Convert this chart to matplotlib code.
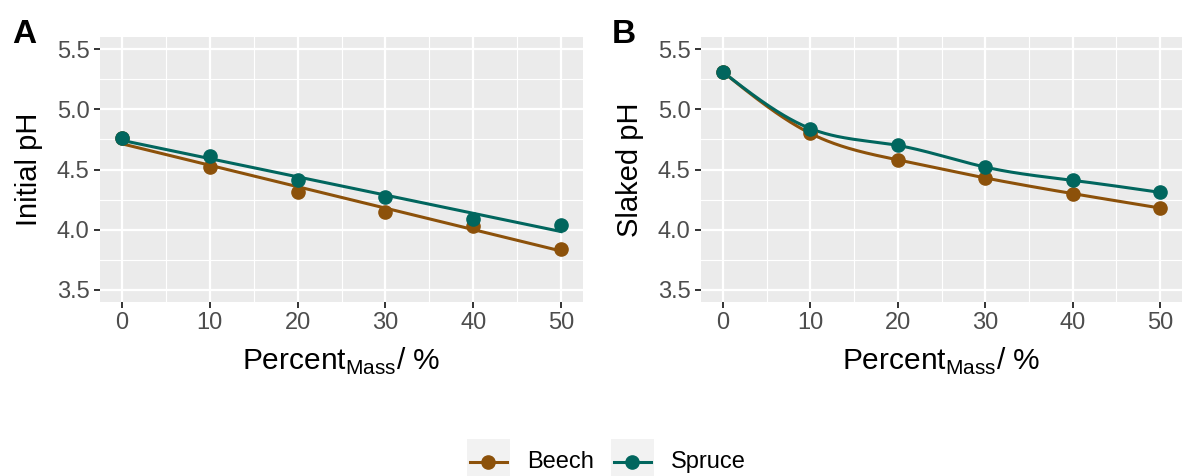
import numpy as np
import matplotlib
matplotlib.use("Agg")
import matplotlib.pyplot as plt
from matplotlib.patches import Rectangle
from matplotlib.lines import Line2D

plt.rcParams['font.family'] = ['Liberation Sans', 'DejaVu Sans']
plt.rcParams['mathtext.fontset'] = 'custom'
plt.rcParams['mathtext.rm'] = 'Liberation Sans'

# data
percent = [0, 10, 20, 30, 40, 50]
species = ['Beech', 'Spruce']
colors = {'Beech': '#8C510A', 'Spruce': '#01665E'}

initial_ph = {
    'Beech': [4.76, 4.52, 4.31, 4.15, 4.03, 3.84],
    'Spruce': [4.76, 4.61, 4.41, 4.27, 4.09, 4.04],
}
slaked_ph = {
    'Beech': [5.31, 4.80, 4.58, 4.43, 4.30, 4.18],
    'Spruce': [5.31, 4.84, 4.70, 4.52, 4.41, 4.31],
}


def natural_spline(x, y, xs):
    # natural cubic spline through (x, y), evaluated at xs
    x = np.asarray(x, float)
    y = np.asarray(y, float)
    n = len(x)
    h = np.diff(x)
    A = np.zeros((n, n))
    b = np.zeros(n)
    A[0, 0] = A[-1, -1] = 1
    for i in range(1, n - 1):
        A[i, i - 1] = h[i - 1]
        A[i, i] = 2 * (h[i - 1] + h[i])
        A[i, i + 1] = h[i]
        b[i] = 3 * ((y[i + 1] - y[i]) / h[i] - (y[i] - y[i - 1]) / h[i - 1])
    c = np.linalg.solve(A, b)
    bb = (y[1:] - y[:-1]) / h - h * (2 * c[:-1] + c[1:]) / 3
    d = (c[1:] - c[:-1]) / (3 * h)
    idx = np.clip(np.searchsorted(x, xs) - 1, 0, n - 2)
    dx = xs - x[idx]
    return y[idx] + bb[idx] * dx + c[idx] * dx ** 2 + d[idx] * dx ** 3


def style_axes(ax):
    ax.set_facecolor('#EBEBEB')
    for s in ax.spines.values():
        s.set_visible(False)
    ax.set_xlim(-2.5, 52.5)
    ax.set_ylim(3.4, 5.6)
    ax.set_xticks(percent)
    ax.set_yticks([3.5, 4.0, 4.5, 5.0, 5.5])
    ax.set_yticklabels(['3.5', '4.0', '4.5', '5.0', '5.5'])
    ax.set_xticks([5, 15, 25, 35, 45], minor=True)
    ax.set_yticks([3.75, 4.25, 4.75, 5.25], minor=True)
    ax.grid(which='major', color='white', lw=1.6)
    ax.grid(which='minor', color='white', lw=0.8)
    ax.set_axisbelow(True)
    ax.tick_params(which='major', length=4.5, width=1.4, color='#333333',
                   labelsize=17, labelcolor='#4D4D4D', pad=3)
    ax.tick_params(which='minor', length=0)
    ax.set_xlabel(r'Percent$_{\mathregular{Mass}}$/ %', fontsize=21.5, labelpad=8)


fig = plt.figure(figsize=(11.83, 4.76), dpi=100)
axA = fig.add_axes([100 / 1183, 174 / 476, 483 / 1183, 265 / 476])
axB = fig.add_axes([701 / 1183, 174 / 476, 481 / 1183, 265 / 476])

xs = np.linspace(0, 50, 300)

# A: linear fits
for sp in species:
    k, m = np.polyfit(percent, initial_ph[sp], 1)
    axA.plot(xs, k * xs + m, color=colors[sp], lw=2.2, zorder=3)
for sp in species:
    axA.plot(percent, initial_ph[sp], 'o', color=colors[sp], ms=9.5, zorder=4)
style_axes(axA)
axA.set_ylabel('Initial pH', fontsize=21, labelpad=10)

# B: smooth curves through the points
for sp in species:
    axB.plot(xs, natural_spline(percent, slaked_ph[sp], xs), color=colors[sp], lw=2.2, zorder=3)
for sp in species:
    axB.plot(percent, slaked_ph[sp], 'o', color=colors[sp], ms=9.5, zorder=4)
style_axes(axB)
axB.set_ylabel('Slaked pH', fontsize=21, labelpad=10)

fig.text(12 / 1183, 1 - 43 / 476, 'A', fontsize=24, fontweight='bold')
fig.text(612 / 1183, 1 - 43 / 476, 'B', fontsize=24, fontweight='bold')

# legend drawn in pixel space
leg = fig.add_axes([0, 0, 1, 1], zorder=-1)
leg.set_xlim(0, 1183)
leg.set_ylim(476, 0)
leg.axis('off')
key_x = {'Beech': 467, 'Spruce': 611}
for sp in species:
    x0 = key_x[sp]
    leg.add_patch(Rectangle((x0, 439), 43, 40, facecolor='#F2F2F2', edgecolor='none'))
    leg.add_line(Line2D([x0 + 3, x0 + 40], [462, 462], color=colors[sp], lw=2.2))
    leg.plot([x0 + 21.5], [462], 'o', color=colors[sp], ms=9.5)
    leg.text(x0 + 60, 462, sp, fontsize=17, va='center', ha='left', color='black')

fig.savefig('out.png', dpi=100)
